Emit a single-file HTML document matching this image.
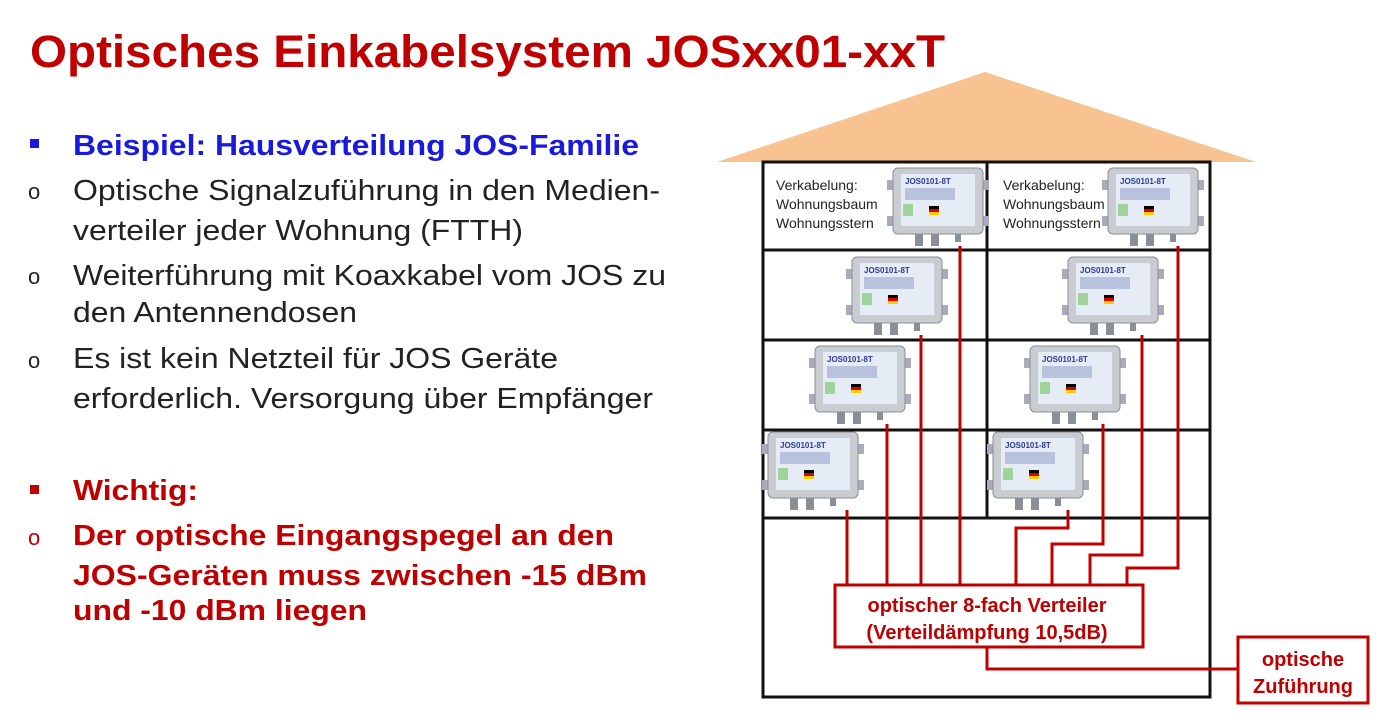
<!DOCTYPE html>
<html><head><meta charset="utf-8"><style>
body{margin:0;width:1391px;height:719px;background:#fff;overflow:hidden;font-family:"Liberation Sans",sans-serif}
</style></head><body>
<svg width="1391" height="719" xmlns="http://www.w3.org/2000/svg" font-family="Liberation Sans, sans-serif">
<defs>
<g id="dev">
 <rect x="-6" y="12" width="8" height="10" fill="#aab"/><rect x="-6" y="48" width="8" height="10" fill="#aab"/>
 <rect x="88" y="12" width="8" height="10" fill="#aab"/><rect x="88" y="48" width="8" height="10" fill="#aab"/>
 <rect x="0" y="0" width="90" height="66" rx="5" fill="#c9cdd2" stroke="#8a8f96"/>
 <rect x="8" y="6" width="74" height="52" fill="#e6ecf6"/>
 <text x="12" y="16" font-size="8" font-weight="bold" fill="#2a3a9a">JOS0101-8T</text>
 <rect x="12" y="20" width="50" height="12" fill="#b8c2dc"/>
 <rect x="10" y="36" width="10" height="12" fill="#9fd39a"/>
 <rect x="36" y="38" width="10" height="3" fill="#000"/><rect x="36" y="41" width="10" height="3" fill="#d00"/><rect x="36" y="44" width="10" height="3" fill="#fc0"/>
 <rect x="22" y="66" width="8" height="12" fill="#8a8f96"/><rect x="38" y="66" width="8" height="12" fill="#8a8f96"/><rect x="62" y="66" width="6" height="8" fill="#8a8f96"/>
</g>
</defs>
<text x="30" y="67" font-size="45" font-weight="bold" fill="#C00000" textLength="915" lengthAdjust="spacingAndGlyphs">Optisches Einkabelsystem JOSxx01-xxT</text>
<g font-size="29" fill="#222" lengthAdjust="spacingAndGlyphs">
<rect x="30" y="139" width="9" height="9" fill="#1a1adf"/>
<text x="73" y="155" font-weight="bold" fill="#1a1adf" textLength="566" lengthAdjust="spacingAndGlyphs">Beispiel: Hausverteilung JOS-Familie</text>
<text x="28" y="199" font-size="22">o</text><text x="73" y="200" textLength="587" lengthAdjust="spacingAndGlyphs">Optische Signalzuführung in den Medien-</text>
<text x="73" y="240" textLength="450" lengthAdjust="spacingAndGlyphs">verteiler jeder Wohnung (FTTH)</text>
<text x="28" y="284" font-size="22">o</text><text x="73" y="285" textLength="593" lengthAdjust="spacingAndGlyphs">Weiterführung mit Koaxkabel vom JOS zu</text>
<text x="73" y="322" textLength="284" lengthAdjust="spacingAndGlyphs">den Antennendosen</text>
<text x="28" y="368" font-size="22">o</text><text x="73" y="368" textLength="485" lengthAdjust="spacingAndGlyphs">Es ist kein Netzteil für JOS Geräte</text>
<text x="73" y="408" textLength="580" lengthAdjust="spacingAndGlyphs">erforderlich. Versorgung über Empfänger</text>
<rect x="30" y="485" width="9" height="9" fill="#C00000"/>
<text x="73" y="500" font-weight="bold" fill="#C00000" textLength="125" lengthAdjust="spacingAndGlyphs">Wichtig:</text>
<text x="28" y="545" font-size="22" fill="#C00000">o</text>
<g font-weight="bold" fill="#C00000"><text x="73" y="545" textLength="541" lengthAdjust="spacingAndGlyphs">Der optische Eingangspegel an den</text>
<text x="73" y="585" textLength="574" lengthAdjust="spacingAndGlyphs">JOS-Geräten muss zwischen -15 dBm</text>
<text x="73" y="620" textLength="294" lengthAdjust="spacingAndGlyphs">und -10 dBm liegen</text></g>
</g>
<polygon points="717,162 985,72 1256,162" fill="#F8C391"/>
<g stroke="#111" stroke-width="3" fill="none">
<rect x="763" y="162" width="447" height="535"/>
<line x1="763" y1="250" x2="1210" y2="250"/><line x1="763" y1="340" x2="1210" y2="340"/>
<line x1="763" y1="430" x2="1210" y2="430"/><line x1="763" y1="518" x2="1210" y2="518"/>
<line x1="987" y1="162" x2="987" y2="518"/>
</g>
<g font-size="14" fill="#222">
<text x="776" y="190">Verkabelung:</text><text x="776" y="209">Wohnungsbaum</text><text x="776" y="228">Wohnungsstern</text>
<text x="1003" y="190">Verkabelung:</text><text x="1003" y="209">Wohnungsbaum</text><text x="1003" y="228">Wohnungsstern</text>
</g>
<use href="#dev" x="893" y="168"/><use href="#dev" x="1108" y="168"/>
<use href="#dev" x="852" y="257"/><use href="#dev" x="1068" y="257"/>
<use href="#dev" x="815" y="346"/><use href="#dev" x="1030" y="346"/>
<use href="#dev" x="768" y="432"/><use href="#dev" x="993" y="432"/>
<g stroke="#C00000" stroke-width="3" fill="none">
<polyline points="960,246 960,585"/><polyline points="921,335 921,585"/>
<polyline points="887,424 887,585"/><polyline points="847,510 847,585"/>
<polyline points="1068,510 1068,528 1016,528 1016,585"/>
<polyline points="1103,424 1103,544 1052,544 1052,585"/>
<polyline points="1142,335 1142,555 1090,555 1090,585"/>
<polyline points="1178,246 1178,568 1127,568 1127,585"/>
<polyline points="987,647 987,669 1238,669"/>
<rect x="835" y="585" width="308" height="62" fill="#fff"/>
<rect x="1238" y="637" width="130" height="66" fill="#fff"/>
</g>
<g font-size="20" font-weight="bold" fill="#C00000" text-anchor="middle">
<text x="987" y="612">optischer 8-fach Verteiler</text>
<text x="987" y="639">(Verteildämpfung 10,5dB)</text>
<text x="1303" y="666">optische</text>
<text x="1303" y="693">Zuführung</text>
</g>
</svg>
</body></html>
